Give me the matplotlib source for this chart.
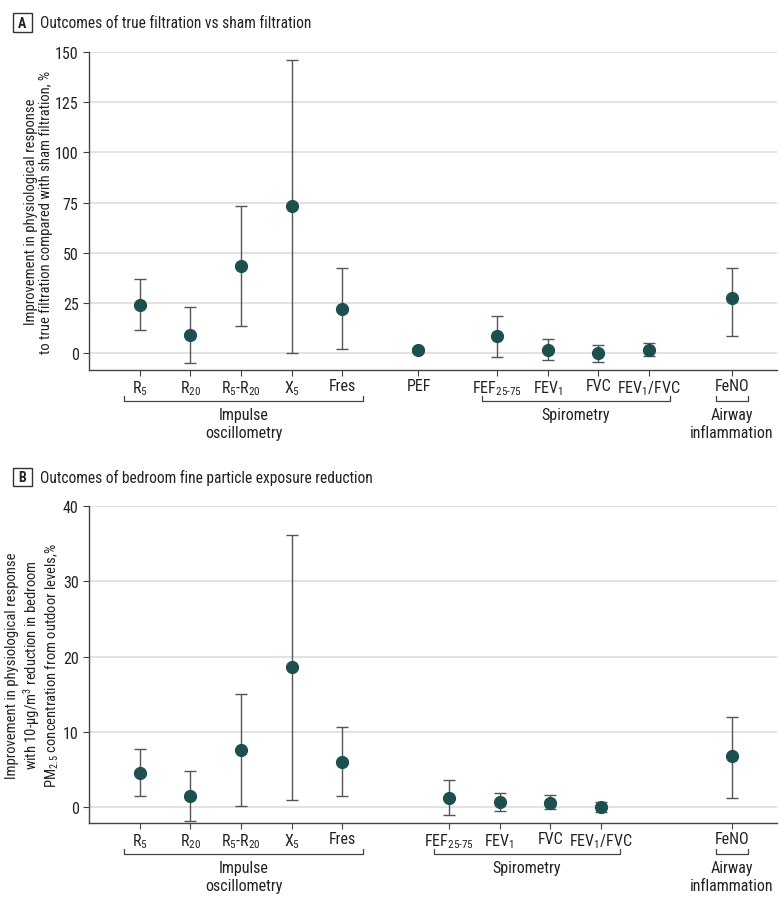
import matplotlib
matplotlib.use("Agg")
import matplotlib.pyplot as plt
import matplotlib.transforms as mtransforms
from matplotlib.patches import Rectangle
from matplotlib import font_manager

names = sorted({f.name for f in font_manager.fontManager.ttflist})
fam = [n for n in ['Roboto Condensed', 'DejaVu Sans Condensed', 'Liberation Sans Narrow',
                   'Roboto'] if n in names]
plt.rcParams['font.family'] = fam + ['DejaVu Sans']
plt.rcParams['font.stretch'] = 'condensed'
plt.rcParams['mathtext.fontset'] = 'custom'
plt.rcParams['mathtext.rm'] = fam[0] if fam else 'DejaVu Sans'
plt.rcParams['mathtext.default'] = 'rm'

# panel A data
labels_a = ["R$_5$", "R$_{20}$", "R$_5$-R$_{20}$", "X$_5$", "Fres", "PEF",
            "FEF$_{25\\text{-}75}$", "FEV$_1$", "FVC", "FEV$_1$/FVC", "FeNO"]
pos_a = [0, 1, 2, 3, 4, 5.5, 7.05, 8.05, 9.05, 10.05, 11.68]
est_a = [24.3, 9.0, 43.5, 73.2, 22.0, 1.5, 8.5, 1.7, 0.0, 1.8, 27.7]
low_a = [11.7, -5.0, 13.8, 0.0, 2.0, 0.5, -1.7, -3.5, -4.2, -1.3, 8.5]
high_a = [37.2, 23.2, 73.5, 146.0, 42.3, 2.6, 18.5, 7.0, 4.2, 5.0, 42.5]

# panel B data
labels_b = ["R$_5$", "R$_{20}$", "R$_5$-R$_{20}$", "X$_5$", "Fres",
            "FEF$_{25\\text{-}75}$", "FEV$_1$", "FVC", "FEV$_1$/FVC", "FeNO"]
pos_b = [0, 1, 2, 3, 4, 6.1, 7.1, 8.1, 9.1, 11.68]
est_b = [4.6, 1.55, 7.55, 18.6, 6.0, 1.2, 0.67, 0.62, 0.0, 6.8]
low_b = [1.55, -1.8, 0.13, 0.9, 1.5, -1.1, -0.53, -0.27, -0.7, 1.2]
high_b = [7.7, 4.8, 15.07, 36.2, 10.6, 3.55, 1.87, 1.6, 0.75, 12.0]

# group brackets (start, end, label)
groups_a = [(-0.3, 4.4, "Impulse\noscillometry"), (6.75, 10.47, "Spirometry"),
            (11.36, 12.0, "Airway\ninflammation")]
groups_b = [(-0.3, 4.4, "Impulse\noscillometry"), (5.8, 9.48, "Spirometry"),
            (11.36, 12.0, "Airway\ninflammation")]

dot = "#1e4f4f"
bar = "#555555"
txt = "#222222"

fig = plt.figure(figsize=(7.8, 9.04), dpi=100)
axA = fig.add_axes([0.114, 0.5896, 0.882, 0.3518])
axB = fig.add_axes([0.114, 0.0885, 0.882, 0.3507])


def draw(ax, pos, est, low, high, labels, groups, ylim, yticks, ylabel, bpos):
    err = [[e - l for e, l in zip(est, low)], [h - e for e, h in zip(est, high)]]
    ax.errorbar(pos, est, yerr=err, fmt='o', color=dot, ms=8.5, ecolor=bar,
                elinewidth=1, capsize=4.5, capthick=1, zorder=3)
    ax.set_xlim(-1.0, 12.57)
    ax.set_ylim(*ylim)
    ax.set_yticks(yticks)
    ax.set_xticks(pos, labels)
    ax.grid(axis='y', color='#dddddd', lw=1.2)
    ax.set_axisbelow(True)
    for s in ['top', 'right']:
        ax.spines[s].set_visible(False)
    for s in ['left', 'bottom']:
        ax.spines[s].set_color('#444444')
        ax.spines[s].set_linewidth(1)
    ax.tick_params(axis='both', length=4, color='#444444', labelsize=11.5, labelcolor=txt)
    ax.tick_params(axis='x', pad=2)
    ax.set_ylabel(ylabel, fontsize=10.5, color=txt, labelpad=1, linespacing=1.15)
    tr = mtransforms.blended_transform_factory(ax.transData, ax.transAxes)
    for x0, x1, name in groups:
        ax.plot([x0, x0, x1, x1], [bpos + 0.016, bpos, bpos, bpos + 0.016],
                color='#444444', lw=0.9, transform=tr, clip_on=False)
        ax.text((x0 + x1) / 2, bpos - 0.02, name, transform=tr, ha='center', va='top',
                fontsize=11.5, color=txt, linespacing=1.2)


draw(axA, pos_a, est_a, low_a, high_a, labels_a, groups_a, (-8.3, 150),
     [0, 25, 50, 75, 100, 125, 150],
     "Improvement in physiological response\nto true filtration compared with sham filtration, %",
     -0.0975)
draw(axB, pos_b, est_b, low_b, high_b, labels_b, groups_b, (-2.1, 40),
     [0, 10, 20, 30, 40],
     "Improvement in physiological response\nwith 10-μg/m$^3$ reduction in bedroom\nPM$_{2.5}$ concentration from outdoor levels,%",
     -0.098)

# panel headings
for letter, ytop, title in [("A", 23.5, "Outcomes of true filtration vs sham filtration"),
                            ("B", 478, "Outcomes of bedroom fine particle exposure reduction")]:
    yf = 1 - ytop / 904
    fig.text(0.0285, yf, letter, ha='center', va='center', fontsize=10,
             fontweight='bold', color=txt)
    fig.patches.append(Rectangle((0.0165, yf - 0.0105), 0.024, 0.021, transform=fig.transFigure,
                                 fill=False, edgecolor='#333333', lw=1))
    fig.text(0.051, yf, title, ha='left', va='center', fontsize=11.2, color=txt)

fig.savefig("out.png", dpi=100)
